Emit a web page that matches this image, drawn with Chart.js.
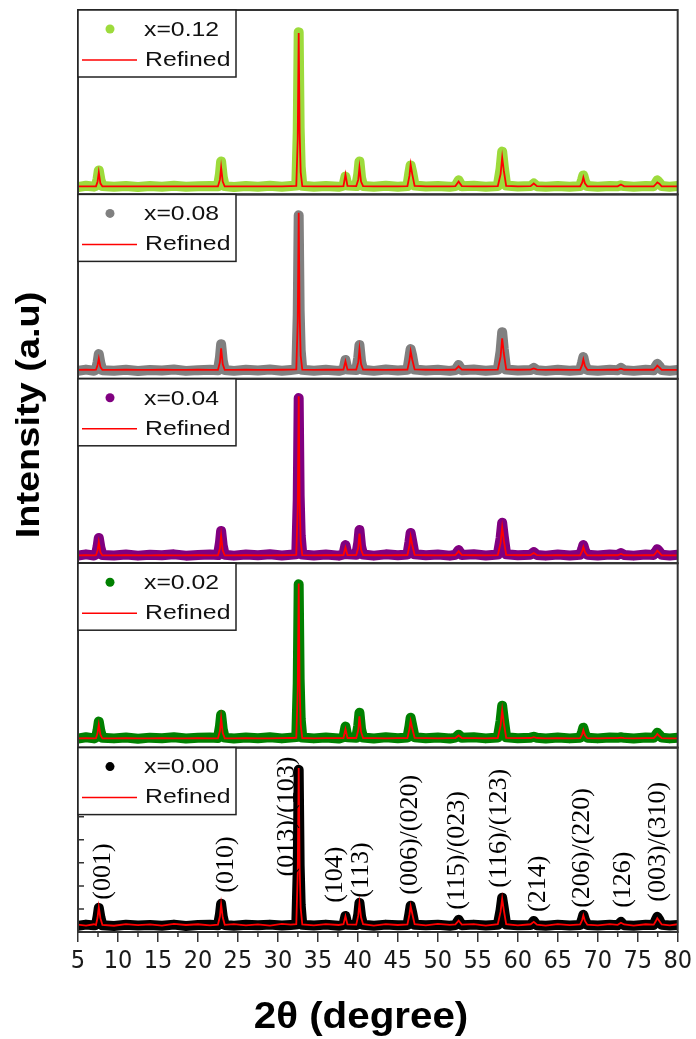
<!DOCTYPE html>
<html>
<head>
<meta charset="utf-8">
<title>XRD Rietveld refinement</title>
<script src="https://cdn.jsdelivr.net/npm/chart.js@4.4.0/dist/chart.umd.min.js"></script>
<style>
  html, body { margin: 0; padding: 0; background: #fff; }
  #wrap { width: 696px; height: 1039px; }
</style>
</head>
<body>
<div id="wrap"><canvas id="xrd" width="696" height="1039"></canvas></div>
<script>
// 2θ grid (degree) shared by all patterns
const twoTheta = [
  5, 6, 7, 7.25, 7.45, 7.6, 7.8, 8.05,
  9.5, 11, 12.5, 14, 15.5, 17, 18.5, 20, 21.5,
  22.5, 22.75, 22.9, 23.1, 23.35,
  24.5, 26, 27.5, 29, 30.5, 31.6,
  32.3, 32.48, 32.6, 32.72, 32.85, 33.05,
  34.5, 36, 37.6,
  38.2, 38.45, 38.7,
  39.8, 40.05, 40.2, 40.4, 40.65,
  42, 43.5, 45,
  46.2, 46.45, 46.6, 46.8, 47.1,
  48.5, 50, 51.5,
  52.2, 52.6, 53.0,
  54.5, 56,
  57.5, 57.85, 58.05, 58.25, 58.55,
  60,
  61.6, 62.0, 62.4,
  63.5, 65, 66.5,
  67.8, 68.05, 68.2, 68.4, 68.7,
  70, 71.5,
  72.5, 72.9, 73.3,
  74.5, 76,
  77.0, 77.25, 77.45, 77.7, 78.0,
  79, 80
];

// x = 0.12
const obs012 = [
  40, 47, 42, 46, 85, 130, 80, 45,
  41, 46, 40, 45, 42, 47, 41, 44, 46,
  44, 110, 178, 95, 45,
  40, 46, 42, 47, 41, 45,
  48, 340, 880, 360, 150, 47,
  42, 46, 41,
  47, 97, 48,
  45, 110, 178, 90, 46,
  41, 47, 42,
  46, 120, 157, 120, 48,
  43, 46, 41,
  45, 76, 44,
  47, 42,
  46, 140, 232, 150, 48,
  43,
  45, 59, 44,
  41, 46, 42,
  45, 80, 103, 70, 45,
  42, 46,
  44, 49, 45,
  41, 46,
  44, 62, 76, 64, 45,
  42, 46
];
const fit012 = [
  43, 44, 43, 44, 70, 119, 60, 43,
  43, 44, 43, 43, 44, 43, 43, 44, 43,
  43, 80, 146, 70, 43,
  43, 44, 43, 43, 44, 45,
  46, 300, 875, 330, 120, 45,
  43, 44, 44,
  45, 108, 46,
  45, 80, 146, 70, 45,
  44, 43, 44,
  45, 100, 162, 110, 46,
  44, 43, 44,
  45, 70, 45,
  44, 43,
  45, 110, 200, 130, 46,
  44,
  45, 59, 45,
  43, 44, 43,
  44, 65, 92, 60, 44,
  43, 44,
  44, 54, 44,
  43, 44,
  44, 55, 65, 58, 44,
  43, 43
];

// x = 0.08
const obs008 = [
  43, 50, 44, 49, 90, 134, 85, 47,
  44, 49, 42, 48, 45, 50, 43, 47, 49,
  46, 115, 188, 100, 48,
  43, 49, 45, 50, 44, 48,
  51, 350, 887, 370, 155, 49,
  44, 49, 43,
  50, 102, 50,
  48, 115, 183, 95, 49,
  43, 50, 45,
  49, 120, 161, 125, 50,
  45, 49, 43,
  48, 75, 47,
  50, 44,
  49, 150, 253, 160, 50,
  45,
  48, 59, 47,
  43, 49, 44,
  48, 90, 118, 78, 48,
  44, 49,
  47, 59, 47,
  43, 49,
  47, 68, 81, 70, 48,
  44, 48
];
const fit008 = [
  48, 49, 48, 49, 75, 110, 65, 48,
  48, 49, 48, 48, 49, 48, 48, 49, 48,
  48, 90, 165, 80, 48,
  48, 49, 48, 48, 49, 50,
  51, 310, 900, 340, 125, 50,
  48, 49, 49,
  50, 95, 50,
  50, 90, 160, 80, 50,
  49, 48, 49,
  50, 100, 150, 105, 51,
  49, 48, 49,
  50, 68, 50,
  49, 48,
  50, 120, 220, 140, 51,
  49,
  50, 56, 50,
  48, 49, 48,
  49, 75, 105, 70, 49,
  48, 49,
  49, 55, 49,
  48, 49,
  49, 60, 72, 62, 49,
  48, 48
];

// x = 0.04
const obs004 = [
  41, 48, 42, 47, 90, 137, 85, 45,
  42, 47, 41, 46, 43, 48, 41, 45, 47,
  44, 110, 175, 95, 46,
  41, 47, 43, 48, 42, 46,
  49, 345, 896, 365, 150, 47,
  42, 47, 41,
  48, 98, 48,
  46, 110, 180, 92, 47,
  41, 48, 43,
  47, 115, 164, 118, 48,
  43, 47, 41,
  46, 71, 45,
  48, 42,
  47, 135, 219, 145, 48,
  43,
  46, 60, 45,
  41, 47, 42,
  46, 75, 98, 68, 46,
  42, 47,
  45, 55, 45,
  41, 47,
  45, 62, 76, 64, 46,
  42, 46
];
const fit004 = [
  42, 43, 42, 43, 70, 115, 60, 42,
  42, 43, 42, 42, 43, 42, 42, 43, 42,
  42, 80, 150, 70, 42,
  42, 43, 42, 42, 43, 44,
  45, 300, 905, 330, 120, 44,
  42, 43, 43,
  44, 85, 44,
  44, 85, 160, 75, 44,
  43, 42, 43,
  44, 95, 145, 100, 45,
  43, 42, 43,
  44, 65, 44,
  43, 42,
  44, 110, 195, 125, 45,
  43,
  44, 55, 44,
  42, 43, 42,
  43, 65, 88, 60, 43,
  42, 43,
  43, 50, 43,
  42, 43,
  43, 55, 68, 57, 43,
  42, 42
];

// x = 0.02
const obs002 = [
  49, 56, 50, 55, 95, 141, 90, 53,
  50, 55, 48, 54, 51, 56, 49, 53, 55,
  52, 115, 178, 100, 54,
  49, 55, 51, 56, 50, 54,
  57, 350, 886, 370, 155, 55,
  50, 55, 49,
  56, 114, 56,
  54, 120, 189, 100, 55,
  49, 56, 51,
  55, 115, 162, 120, 56,
  51, 55, 49,
  54, 70, 53,
  56, 50,
  55, 145, 227, 155, 56,
  51,
  54, 59, 53,
  49, 55, 50,
  54, 85, 108, 75, 54,
  50, 55,
  53, 56, 53,
  49, 55,
  53, 68, 81, 70, 54,
  50, 54
];
const fit002 = [
  50, 51, 50, 51, 80, 125, 70, 50,
  50, 51, 50, 50, 51, 50, 50, 51, 50,
  50, 90, 160, 80, 50,
  50, 51, 50, 50, 51, 52,
  53, 310, 890, 340, 125, 52,
  50, 51, 51,
  52, 100, 52,
  52, 95, 170, 85, 52,
  51, 50, 51,
  52, 100, 145, 105, 53,
  51, 50, 51,
  52, 66, 52,
  51, 50,
  52, 120, 205, 135, 53,
  51,
  52, 57, 52,
  50, 51, 50,
  51, 72, 95, 68, 51,
  50, 51,
  51, 54, 51,
  50, 51,
  51, 62, 74, 63, 51,
  50, 50
];

// x = 0.00
const obs000 = [
  34, 40, 36, 39, 85, 131, 80, 37,
  33, 39, 35, 38, 34, 40, 33, 38, 39,
  36, 95, 153, 85, 38,
  34, 39, 36, 40, 35, 38,
  40, 340, 880, 360, 145, 39,
  35, 40, 34,
  39, 87, 39,
  38, 95, 158, 85, 39,
  34, 40, 36,
  38, 100, 142, 105, 39,
  36, 39, 34,
  38, 66, 37,
  40, 35,
  39, 120, 186, 130, 40,
  36,
  38, 60, 37,
  34, 39, 35,
  38, 70, 93, 65, 38,
  35, 39,
  37, 55, 37,
  34, 39,
  38, 65, 82, 66, 39,
  35, 38
];
const fit000 = [
  40, 35, 42, 38, 80, 135, 75, 39,
  34, 43, 37, 41, 35, 44, 38, 42, 36,
  40, 85, 150, 80, 39,
  43, 36, 41, 35, 44, 40,
  42, 320, 890, 350, 130, 41,
  36, 43, 38,
  42, 85, 41,
  40, 90, 155, 80, 42,
  35, 43, 38,
  41, 95, 140, 100, 42,
  36, 44, 39,
  41, 62, 40,
  43, 35,
  42, 110, 180, 120, 43,
  36,
  42, 55, 40,
  35, 43, 37,
  41, 65, 90, 60, 40,
  36, 43,
  39, 50, 41,
  35, 42,
  40, 58, 75, 60, 41,
  36, 42
];

// Miller indices marked on the x = 0.00 pattern: text, 2θ of the label, intensity at the label foot
const hklLabels = ['(001)', '(010)', '(013)/(103)', '(104)', '(113)', '(006)/(020)',
  '(115)/(023)', '(116)/(123)', '(214)', '(206)/(220)', '(126)', '(003)/(310)'];
const hklTheta = [8.1, 23.5, 31.1, 37.2, 40.4, 46.5, 52.4, 57.65, 62.5, 68.0, 73.2, 77.5];
const hklFoot = [175, 213, 301, 158, 186, 202, 120, 240, 109, 131, 131, 164];

const sampleLabels = ['x=0.12', 'x=0.08', 'x=0.04', 'x=0.02', 'x=0.00'];
const sampleColors = ['#9ddb3c', '#808080', '#800080', '#008000', '#000000'];
const fitColor = '#ff0000';

// one panel per sample, top to bottom
const panels = [
  { id: 'y012', obs: obs012, fit: fit012 },
  { id: 'y008', obs: obs008, fit: fit008 },
  { id: 'y004', obs: obs004, fit: fit004 },
  { id: 'y002', obs: obs002, fit: fit002 },
  { id: 'y000', obs: obs000, fit: fit000 }
];
panels.forEach((p, i) => { p.label = sampleLabels[i]; p.color = sampleColors[i]; });

const toXY = ys => twoTheta.map((x, i) => ({ x, y: ys[i] }));

const datasets = [];
panels.forEach(p => {
  datasets.push({
    label: 'Refined', data: toXY(p.fit), yAxisID: p.id, order: 0,
    borderColor: fitColor, borderWidth: 1.8, pointRadius: 0, tension: 0
  });
  datasets.push({
    label: p.label, data: toXY(p.obs), yAxisID: p.id, order: 1,
    borderColor: p.color, borderWidth: 10, pointRadius: 0, tension: 0,
    borderJoinStyle: 'round', borderCapStyle: 'round'
  });
});

const yAxis = weight => ({
  type: 'linear', position: 'left', stack: 'xrd', stackWeight: 1, weight,
  min: 0, max: 1000,
  ticks: { display: false, stepSize: 125 },
  grid: { display: false, drawTicks: false },
  border: { display: false },
  afterFit(s) { s.width = 0; }
});

const scales = {
  x: {
    type: 'linear', min: 5, max: 80,
    ticks: {
      stepSize: 5, autoSkip: false, maxRotation: 0, padding: 4, color: '#1a1a1a',
      font: { family: "'Liberation Sans Narrow', 'Arial Narrow', 'DejaVu Sans Condensed', 'Liberation Sans', sans-serif", size: 25 }
    },
    grid: { display: true, drawOnChartArea: false, drawTicks: true, tickLength: 10, color: '#333', lineWidth: 1.5 },
    border: { display: true, color: '#333', width: 2 },
    afterFit(s) { s.height = 107; }
  }
};
panels.forEach((p, i) => { scales[p.id] = yAxis(panels.length - i); });

function stretchedText(ctx, txt, x, y, font, sx, align) {
  ctx.save();
  ctx.translate(x, y);
  ctx.scale(sx, 1);
  ctx.font = font;
  ctx.textAlign = align || 'left';
  ctx.textBaseline = 'middle';
  ctx.fillText(txt, 0, 0);
  ctx.restore();
}

const panelDecor = {
  id: 'panelDecor',
  beforeDatasetDraw(chart, args) {
    const ys = chart.scales[args.meta.yAxisID];
    const a = chart.chartArea;
    chart.ctx.save();
    chart.ctx.beginPath();
    chart.ctx.rect(a.left, ys.top, a.right - a.left, ys.bottom - ys.top);
    chart.ctx.clip();
  },
  afterDatasetDraw(chart) {
    chart.ctx.restore();
  },
  afterDatasetsDraw(chart) {
    const ctx = chart.ctx;
    const a = chart.chartArea;
    const xs = chart.scales.x;
    const yb = chart.scales.y000;
    ctx.save();

    // hkl labels, rotated, on the bottom pattern
    ctx.fillStyle = '#000';
    ctx.font = "26px 'Liberation Serif', 'Times New Roman', serif";
    ctx.textAlign = 'left';
    ctx.textBaseline = 'middle';
    hklLabels.forEach((txt, i) => {
      ctx.save();
      ctx.translate(xs.getPixelForValue(hklTheta[i]), yb.getPixelForValue(hklFoot[i]));
      ctx.rotate(-Math.PI / 2);
      ctx.fillText(txt, 0, 0);
      ctx.restore();
    });

    // panel frames
    ctx.strokeStyle = '#333';
    ctx.lineWidth = 2;
    panels.forEach(p => {
      const ys = chart.scales[p.id];
      ctx.strokeRect(a.left, ys.top, a.right - a.left, ys.bottom - ys.top);
    });

    // minor x ticks (outward) and inward y ticks of the bottom panel
    ctx.lineWidth = 1.5;
    ctx.beginPath();
    for (let v = xs.min + 2.5; v < xs.max; v += 5) {
      const px = xs.getPixelForValue(v);
      ctx.moveTo(px, a.bottom);
      ctx.lineTo(px, a.bottom + 5);
    }
    yb.ticks.forEach(t => {
      if (t.value <= yb.min || t.value >= yb.max) return;
      const py = yb.getPixelForValue(t.value);
      ctx.moveTo(a.left, py);
      ctx.lineTo(a.left + 6, py);
    });
    ctx.stroke();

    // legends
    const legFont = "21px 'Liberation Sans', Arial, sans-serif";
    panels.forEach(p => {
      const L = a.left, T = chart.scales[p.id].top;
      ctx.fillStyle = '#fff';
      ctx.fillRect(L, T, 158, 67);
      ctx.strokeStyle = '#222';
      ctx.lineWidth = 1.5;
      ctx.strokeRect(L, T, 158, 67);
      ctx.fillStyle = p.color;
      ctx.beginPath();
      ctx.arc(L + 32, T + 19, 4.5, 0, Math.PI * 2);
      ctx.fill();
      ctx.strokeStyle = fitColor;
      ctx.lineWidth = 1.5;
      ctx.beginPath();
      ctx.moveTo(L + 4, T + 50);
      ctx.lineTo(L + 59, T + 50);
      ctx.stroke();
      ctx.fillStyle = '#111';
      stretchedText(ctx, p.label, L + 66, T + 20, legFont, 1.18);
      stretchedText(ctx, 'Refined', L + 67, T + 50, legFont, 1.18);
    });

    // axis titles
    ctx.fillStyle = '#000';
    stretchedText(ctx, '2θ (degree)', 361, 1018, "bold 36px 'Liberation Sans', Arial, sans-serif", 1.12, 'center');
    ctx.save();
    ctx.translate(30, 415);
    ctx.rotate(-Math.PI / 2);
    stretchedText(ctx, 'Intensity (a.u)', 0, 0, "bold 33px 'Liberation Sans', Arial, sans-serif", 1.15, 'center');
    ctx.restore();

    ctx.restore();
  }
};

new Chart(document.getElementById('xrd'), {
  type: 'line',
  data: { datasets },
  options: {
    responsive: false,
    devicePixelRatio: 1,
    animation: false,
    events: [],
    layout: { padding: { left: 78, right: 14, top: 10, bottom: 0 } },
    plugins: { legend: { display: false }, tooltip: { enabled: false } },
    scales
  },
  plugins: [panelDecor]
});
</script>
</body>
</html>
